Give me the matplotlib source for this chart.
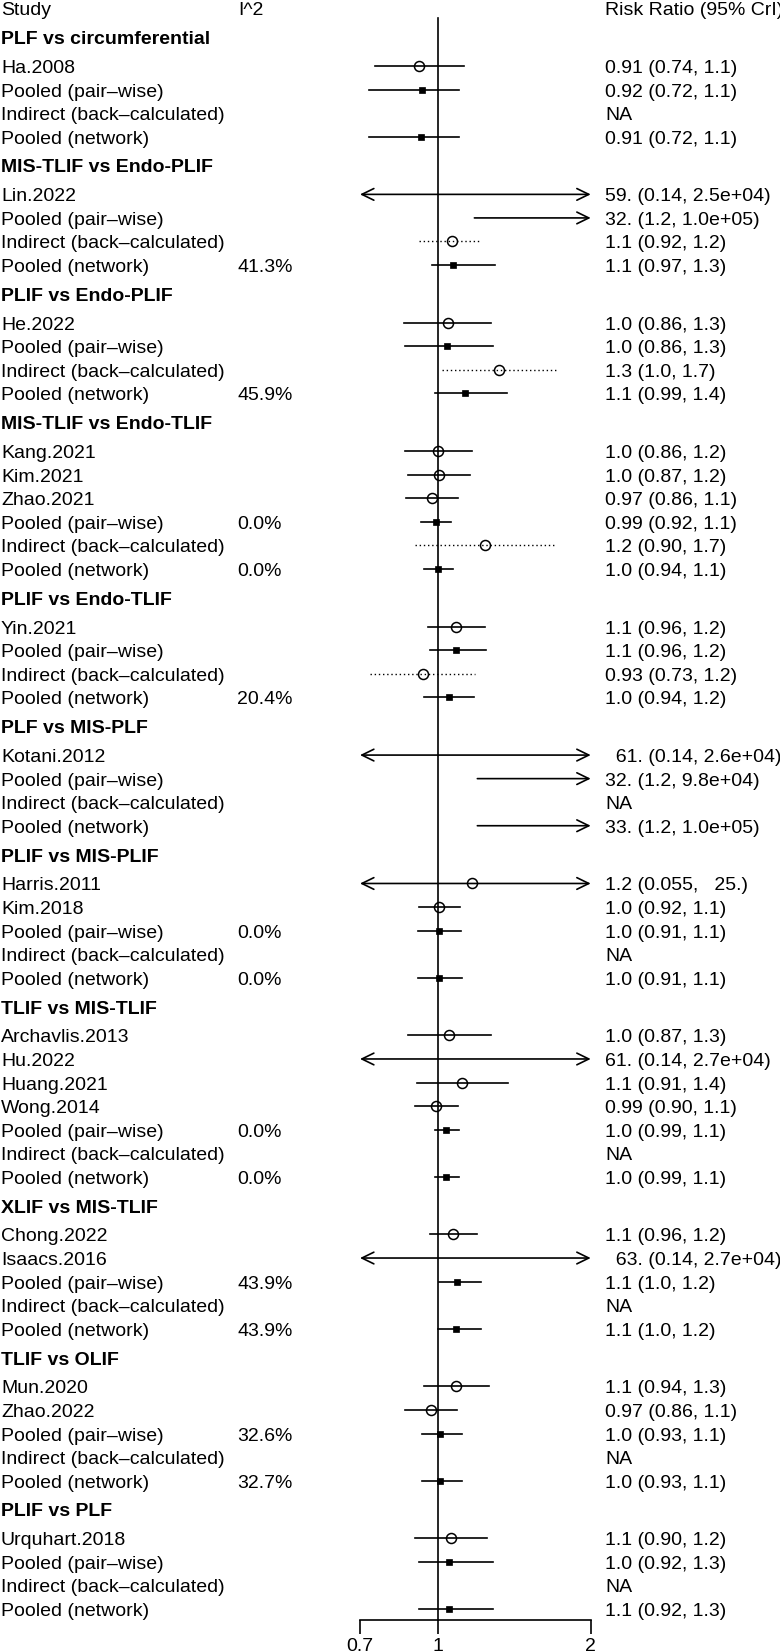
import numpy as np
import matplotlib
matplotlib.use("Agg")
import matplotlib.pyplot as plt

plt.rcParams['font.family'] = ['Liberation Sans', 'DejaVu Sans']

# ---------------- data ----------------
group_titles = ["PLF vs circumferential", "MIS-TLIF vs Endo-PLIF", "PLIF vs Endo-PLIF",
                "MIS-TLIF vs Endo-TLIF", "PLIF vs Endo-TLIF", "PLF vs MIS-PLF",
                "PLIF vs MIS-PLIF", "TLIF vs MIS-TLIF", "XLIF vs MIS-TLIF",
                "TLIF vs OLIF", "PLIF vs PLF"]

PW = "Pooled (pair\u2013wise)"
IND = "Indirect (back\u2013calculated)"
NET = "Pooled (network)"

row_group = [0]*4 + [1]*4 + [2]*4 + [3]*6 + [4]*4 + [5]*4 + [6]*5 + [7]*7 + [8]*5 + [9]*5 + [10]*4

row_labels = [
    "Ha.2008", PW, IND, NET,
    "Lin.2022", PW, IND, NET,
    "He.2022", PW, IND, NET,
    "Kang.2021", "Kim.2021", "Zhao.2021", PW, IND, NET,
    "Yin.2021", PW, IND, NET,
    "Kotani.2012", PW, IND, NET,
    "Harris.2011", "Kim.2018", PW, IND, NET,
    "Archavlis.2013", "Hu.2022", "Huang.2021", "Wong.2014", PW, IND, NET,
    "Chong.2022", "Isaacs.2016", PW, IND, NET,
    "Mun.2020", "Zhao.2022", PW, IND, NET,
    "Urquhart.2018", PW, IND, NET,
]

row_kind = [
    "study", "pair", "ind", "net",
    "study", "pair", "ind", "net",
    "study", "pair", "ind", "net",
    "study", "study", "study", "pair", "ind", "net",
    "study", "pair", "ind", "net",
    "study", "pair", "ind", "net",
    "study", "study", "pair", "ind", "net",
    "study", "study", "study", "study", "pair", "ind", "net",
    "study", "study", "pair", "ind", "net",
    "study", "study", "pair", "ind", "net",
    "study", "pair", "ind", "net",
]

nan = np.nan
est = [0.916, 0.927, nan, 0.925,
       59, 32, 1.064, 1.068,
       1.044, 1.039, 1.318, 1.127,
       1.000, 1.005, 0.972, 0.988, 1.238, 0.997,
       1.085, 1.084, 0.933, 1.048,
       61, 32, nan, 33,
       1.167, 1.005, 1.003, nan, 1.003,
       1.051, 61, 1.115, 0.990, 1.036, nan, 1.036,
       1.070, 63, 1.087, nan, 1.085,
       1.085, 0.967, 1.009, nan, 1.009,
       1.059, 1.051, nan, 1.051]

lo = [0.750, 0.730, nan, 0.730,
      0.14, 1.178, 0.917, 0.973,
      0.857, 0.861, 1.017, 0.986,
      0.858, 0.871, 0.863, 0.923, 0.899, 0.936,
      0.956, 0.963, 0.733, 0.936,
      0.14, 1.194, nan, 1.194,
      0.055, 0.916, 0.913, nan, 0.913,
      0.869, 0.14, 0.906, 0.898, 0.986, nan, 0.986,
      0.963, 0.14, 1.003, nan, 1.000,
      0.938, 0.861, 0.927, nan, 0.927,
      0.899, 0.915, nan, 0.915]

hi = [1.124, 1.099, nan, 1.099,
      2.5e4, 1.0e5, 1.21, 1.296,
      1.271, 1.28, 1.713, 1.367,
      1.167, 1.157, 1.094, 1.061, 1.69, 1.070,
      1.235, 1.244, 1.18, 1.175,
      2.6e4, 9.8e4, nan, 1.0e5,
      25, 1.104, 1.11, nan, 1.114,
      1.271, 2.7e4, 1.371, 1.095, 1.097, nan, 1.097,
      1.191, 2.7e4, 1.216, nan, 1.213,
      1.257, 1.087, 1.114, nan, 1.114,
      1.248, 1.28, nan, 1.28]

i2_text = ["", "", "", "",
           "", "", "", "41.3%",
           "", "", "", "45.9%",
           "", "", "", "0.0%", "", "0.0%",
           "", "", "", "20.4%",
           "", "", "", "",
           "", "", "0.0%", "", "0.0%",
           "", "", "", "", "0.0%", "", "0.0%",
           "", "", "43.9%", "", "43.9%",
           "", "", "32.6%", "", "32.7%",
           "", "", "", ""]

ci_text = ["0.91 (0.74, 1.1)", "0.92 (0.72, 1.1)", "NA", "0.91 (0.72, 1.1)",
           "59. (0.14, 2.5e+04)", "32. (1.2, 1.0e+05)", "1.1 (0.92, 1.2)", "1.1 (0.97, 1.3)",
           "1.0 (0.86, 1.3)", "1.0 (0.86, 1.3)", "1.3 (1.0, 1.7)", "1.1 (0.99, 1.4)",
           "1.0 (0.86, 1.2)", "1.0 (0.87, 1.2)", "0.97 (0.86, 1.1)", "0.99 (0.92, 1.1)",
           "1.2 (0.90, 1.7)", "1.0 (0.94, 1.1)",
           "1.1 (0.96, 1.2)", "1.1 (0.96, 1.2)", "0.93 (0.73, 1.2)", "1.0 (0.94, 1.2)",
           "  61. (0.14, 2.6e+04)", "32. (1.2, 9.8e+04)", "NA", "33. (1.2, 1.0e+05)",
           "1.2 (0.055,   25.)", "1.0 (0.92, 1.1)", "1.0 (0.91, 1.1)", "NA", "1.0 (0.91, 1.1)",
           "1.0 (0.87, 1.3)", "61. (0.14, 2.7e+04)", "1.1 (0.91, 1.4)", "0.99 (0.90, 1.1)",
           "1.0 (0.99, 1.1)", "NA", "1.0 (0.99, 1.1)",
           "1.1 (0.96, 1.2)", "  63. (0.14, 2.7e+04)", "1.1 (1.0, 1.2)", "NA", "1.1 (1.0, 1.2)",
           "1.1 (0.94, 1.3)", "0.97 (0.86, 1.1)", "1.0 (0.93, 1.1)", "NA", "1.0 (0.93, 1.1)",
           "1.1 (0.90, 1.2)", "1.0 (0.92, 1.3)", "NA", "1.1 (0.92, 1.3)"]

header_texts = ["Study", "I^2", "Risk Ratio (95% CrI)"]
x_ticks = [0.7, 1, 2]
x_ticklabels = ["0.7", "1", "2"]

# ---------------- layout ----------------
W, H = 780, 1652
FS = 14
CAP_HALF = 7.0          # half cap height in px -> baseline offset to center caps on row
ROW = 23.55
HEAD = 34.2
AX_BOTTOM = 1620
X_LO_PX, X_HI_PX = 360, 590.7
COL_STUDY, COL_I2, COL_CI = 1, 237, 605

fig = plt.figure(figsize=(W / 100, H / 100), dpi=100)
tax = fig.add_axes([0, 0, 1, 1])
tax.set_xlim(0, W)
tax.set_ylim(H, 0)
tax.axis('off')

ax = fig.add_axes([X_LO_PX / W, (H - AX_BOTTOM) / H, (X_HI_PX - X_LO_PX) / W, AX_BOTTOM / H])
ax.set_xscale('log')
xmin, xmax = x_ticks[0], x_ticks[-1]
ax.set_xlim(xmin, xmax)
ax.set_ylim(AX_BOTTOM, 0)
ax.patch.set_alpha(0)
for s in ['top', 'left', 'right']:
    ax.spines[s].set_visible(False)
ax.spines['bottom'].set_linewidth(1.2)
ax.set_yticks([])
ax.set_xticks(x_ticks)
ax.set_xticklabels(x_ticklabels, fontsize=FS)
ax.xaxis.set_minor_locator(matplotlib.ticker.NullLocator())
ax.tick_params(axis='x', direction='out', length=10, width=1.2, pad=3)


def put(x, y, s, **kw):
    tax.text(x, y + CAP_HALF, s, fontsize=FS, va='baseline', ha='left', **kw)


# compute row y positions
first_header = 37.1
row_y = []
header_y = []
cur = first_header
for g in range(len(group_titles)):
    header_y.append(cur)
    r = cur + (ROW + HEAD) / 2
    n = row_group.count(g)
    for k in range(n):
        row_y.append(r)
        r += ROW
    cur = r - ROW + (ROW + HEAD) / 2

top_y = first_header - (ROW + HEAD) / 2

# reference line
ax.plot([1, 1], [18, AX_BOTTOM], color='black', lw=1.2, zorder=1, clip_on=False)

# headers
put(COL_STUDY, top_y, header_texts[0])
put(COL_I2 + 1, top_y, header_texts[1])
put(COL_CI, top_y, header_texts[2])
for g, t in enumerate(group_titles):
    put(COL_STUDY, header_y[g], t, fontweight='bold')

arrow_kw = dict(lw=1.2, color='black', shrinkA=0, shrinkB=0, mutation_scale=10)

for i in range(len(row_labels)):
    y = row_y[i]
    put(COL_STUDY, y, row_labels[i])
    if i2_text[i]:
        put(COL_I2, y, i2_text[i])
    put(COL_CI, y, ci_text[i])

    e, l, h = est[i], lo[i], hi[i]
    if np.isnan(e):
        continue
    kind = row_kind[i]
    if kind == 'ind':
        lstyle = dict(color='black', lw=1.0, linestyle=(0, (1, 2)))
    else:
        lstyle = dict(color='black', lw=1.2, linestyle='-')
    left_cut = l < xmin
    right_cut = h > xmax
    l2 = max(l, xmin)
    h2 = min(h, xmax)
    if left_cut and right_cut:
        ax.annotate('', xy=(xmax, y), xytext=(xmin, y),
                    arrowprops=dict(arrowstyle='<->,head_length=0.86,head_width=0.42', **arrow_kw))
    elif right_cut:
        ax.annotate('', xy=(xmax, y), xytext=(l2, y),
                    arrowprops=dict(arrowstyle='->,head_length=0.86,head_width=0.42', **arrow_kw))
    elif left_cut:
        ax.annotate('', xy=(xmin, y), xytext=(h2, y),
                    arrowprops=dict(arrowstyle='->,head_length=0.86,head_width=0.42', **arrow_kw))
    else:
        ax.plot([l2, h2], [y, y], zorder=2, **lstyle)
    if xmin <= e <= xmax:
        if kind in ('study', 'ind'):
            ax.plot([e], [y], marker='o', markersize=7.2, markerfacecolor='none',
                    markeredgecolor='black', markeredgewidth=1.1, zorder=3)
        else:
            ax.plot([e], [y], marker='s', markersize=4.6, markerfacecolor='black',
                    markeredgecolor='black', markeredgewidth=0.5, zorder=3)

fig.savefig("out.png", dpi=100)
